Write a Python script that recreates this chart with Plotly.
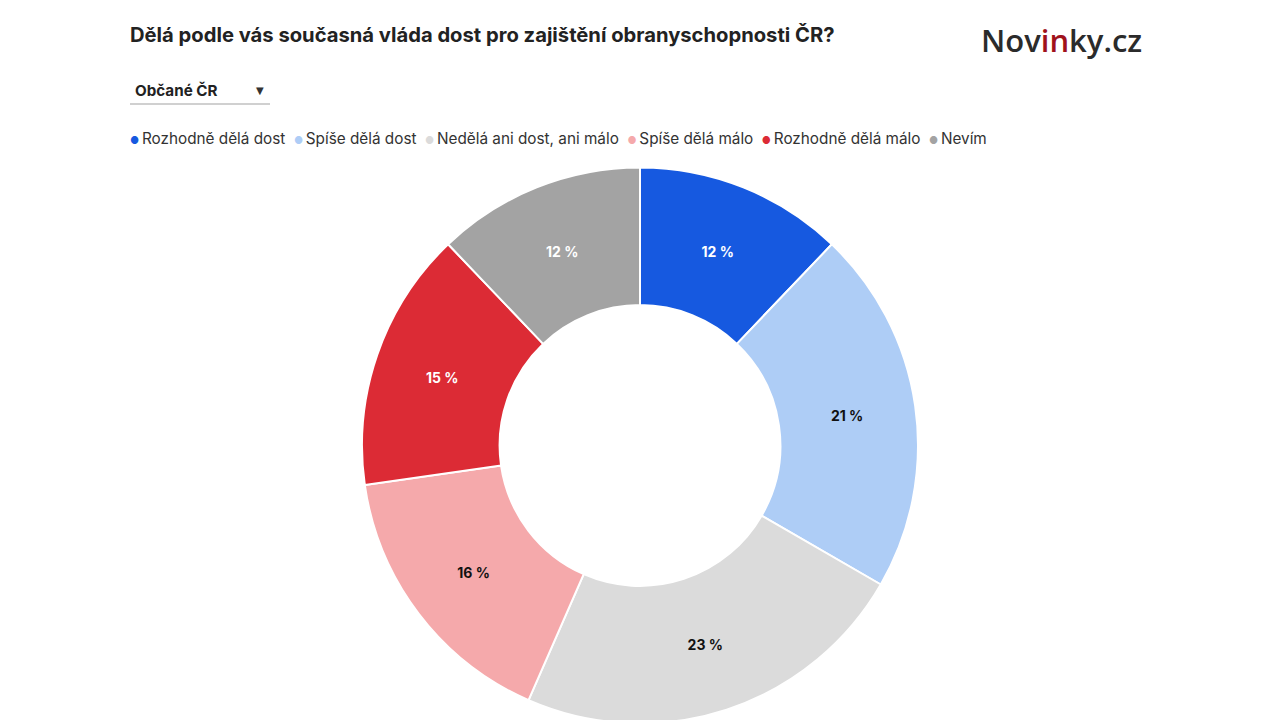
import plotly.graph_objects as go

title_text = "Dělá podle vás současná vláda dost pro zajištění obranyschopnosti ČR?"
dropdown_label = "Občané ČR"
labels = ["Rozhodně dělá dost", "Spíše dělá dost", "Nedělá ani dost, ani málo",
          "Spíše dělá málo", "Rozhodně dělá málo", "Nevím"]
values = [12, 21, 23, 16, 15, 12]
colors = ["#1659e0", "#aecdf6", "#dbdbdb", "#f5a9ab", "#dc2b35", "#a3a3a3"]
text_colors = ["#ffffff", "#111111", "#111111", "#111111", "#ffffff", "#ffffff"]

FONT = "Inter, Roboto, sans-serif"
W, H = 1280, 720

def px(x):
    return x / W

def py(y):
    return 1 - y / H

fig = go.Figure()
fig.add_trace(go.Pie(
    labels=labels,
    values=values,
    sort=False,
    direction="clockwise",
    rotation=0,
    hole=0.505,
    marker=dict(colors=colors, line=dict(color="#ffffff", width=2)),
    texttemplate="%{value} %",
    textinfo="text",
    textposition="inside",
    insidetextorientation="horizontal",
    textfont=dict(family=FONT, size=14, color=text_colors, weight="bold"),
    showlegend=False,
    domain=dict(x=[px(632 - 278), px(632 + 278)], y=[4 / H, py(159)]),
))

legend_html = "&nbsp;&nbsp;".join(
    f"<span style='color:{c};font-size:10px'>●</span>&#8201;{lab}" for lab, c in zip(labels, colors)
)

annotations = [
    dict(text=f"<b>{title_text}</b>", x=px(120), y=py(27), xref="paper", yref="paper",
         xanchor="left", yanchor="middle", showarrow=False,
         font=dict(family=FONT, size=20.2, color="#222222")),
    dict(text="Nov<span style='color:#a0121c'>in</span>ky.cz", x=px(1053), y=py(32),
         xref="paper", yref="paper", xanchor="center", yanchor="middle", showarrow=False,
         font=dict(family="Open Sans, sans-serif", size=31, color="#2b2b2b", weight=600)),
    dict(text=f"<b>{dropdown_label}</b>", x=px(125), y=py(82), xref="paper", yref="paper",
         xanchor="left", yanchor="middle", showarrow=False,
         font=dict(family=FONT, size=15.2, color="#222222")),
    dict(text="▼", x=px(252), y=py(82), xref="paper", yref="paper",
         xanchor="center", yanchor="middle", showarrow=False,
         font=dict(family="DejaVu Sans", size=10, color="#333333")),
    dict(text=legend_html, x=px(120), y=py(130), xref="paper", yref="paper",
         xanchor="left", yanchor="middle", showarrow=False,
         font=dict(family=FONT, size=15.3, color="#333333")),
]

fig.update_layout(
    width=W, height=H,
    margin=dict(l=0, r=0, t=0, b=0),
    paper_bgcolor="#ffffff", plot_bgcolor="#ffffff",
    annotations=annotations,
    shapes=[dict(type="line", xref="paper", yref="paper",
                 x0=px(122), x1=px(262), y0=py(96), y1=py(96),
                 line=dict(color="#d0d0d0", width=2))],
)

fig.write_html("out.html")
